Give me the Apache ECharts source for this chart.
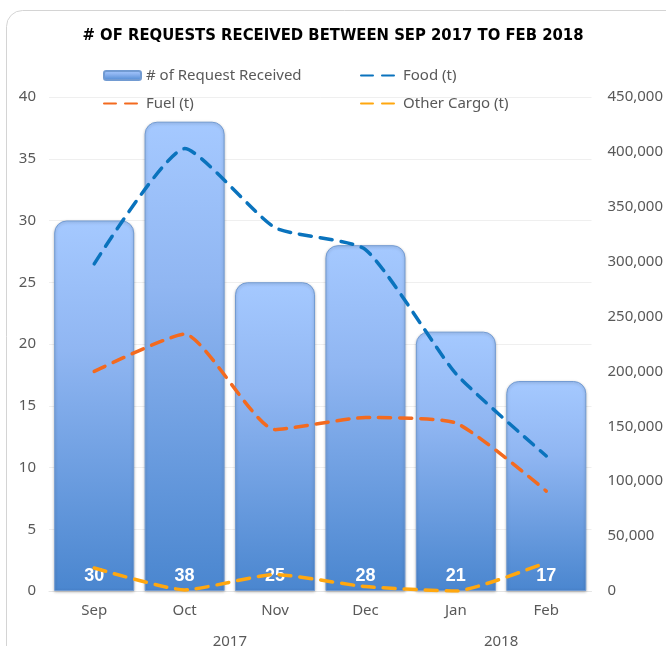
<!DOCTYPE html>
<head>
    <meta charset="utf-8">
    <title># of Requests Received</title>
    <script src="https://cdn.jsdelivr.net/npm/echarts@6/dist/echarts.min.js"></script>
    <style>
        html, body { margin: 0; padding: 0; background: #fff; }
    </style>
</head>
<body>
<div id="main" style="width:666px;height:646px"></div>
<script type="text/javascript">
    // data
    var months = ['Sep', 'Oct', 'Nov', 'Dec', 'Jan', 'Feb'];
    var requests = [30, 38, 25, 28, 21, 17];
    var food = [298000, 403000, 331000, 311000, 198000, 123000];
    var fuel = [200000, 234000, 147000, 158000, 153000, 91000];
    var otherCargo = [21000, 1000, 15000, 4000, 0, 26000];
    var yearGroups = [
        { label: '2017', from: 0, to: 3 },
        { label: '2018', from: 4, to: 5 }
    ];

    var FONT = '"Noto Sans", "DejaVu Sans", sans-serif';
    var TEXT = '#595959';

    var myChart = echarts.init(document.getElementById('main'));

    function lineSeries(name, data, color) {
        return {
            name: name,
            type: 'line',
            yAxisIndex: 1,
            data: data,
            smooth: 0.18,
            showSymbol: false,
            symbol: 'none',
            z: 3,
            itemStyle: { color: color },
            lineStyle: { color: color, width: 3.5, type: [12, 9], cap: 'round' }
        };
    }

    // one legend per entry so the 2x2 layout matches; line entries hide the symbol
    function legendAt(name, left, top, isLine) {
        var item = { name: name };
        if (isLine) item.itemStyle = { opacity: 0 };
        return {
            data: [item],
            left: left,
            top: top,
            itemWidth: 37,
            itemHeight: 9,
            itemGap: 8,
            textStyle: { color: TEXT, fontSize: 15, fontFamily: FONT },
            selectedMode: false
        };
    }

    var option = {
        animation: false,
        title: {
            text: '# OF REQUESTS RECEIVED BETWEEN SEP 2017 TO FEB 2018',
            left: 'center',
            top: 22,
            textStyle: {
                fontSize: 16.5,
                fontWeight: 'bold',
                color: '#000',
                fontFamily: '"Liberation Sans Narrow", "DejaVu Sans Condensed", sans-serif'
            }
        },
        legend: [
            legendAt('# of Request Received', 98, 63, false),
            legendAt('Food (t)', 355, 63, true),
            legendAt('Fuel (t)', 98, 91, true),
            legendAt('Other Cargo (t)', 355, 91, true)
        ],
        grid: { left: 49, right: 74, top: 97, bottom: 55 },
        xAxis: [{
            type: 'category',
            data: months,
            axisLine: { lineStyle: { color: '#e6e6e6' } },
            axisTick: { show: false },
            axisLabel: { color: TEXT, fontSize: 15, fontFamily: FONT, margin: 12 }
        }],
        yAxis: [{
            type: 'value',
            min: 0,
            max: 40,
            interval: 5,
            axisLine: { show: false },
            axisTick: { show: false },
            splitLine: { lineStyle: { color: '#efefef' } },
            axisLabel: { color: TEXT, fontSize: 15, fontFamily: FONT, margin: 13 }
        }, {
            type: 'value',
            min: 0,
            max: 450000,
            interval: 50000,
            axisLine: { show: false },
            axisTick: { show: false },
            splitLine: { show: false },
            axisLabel: {
                color: TEXT, fontSize: 15, fontFamily: FONT, margin: 16,
                formatter: function (v) { return v.toLocaleString('en-US'); }
            }
        }],
        series: [{
            name: '# of Request Received',
            type: 'bar',
            data: requests,
            barWidth: 80,
            z: 2,
            itemStyle: {
                color: new echarts.graphic.LinearGradient(0, 0, 0, 1, [
                    { offset: 0, color: '#a5c9ff' },
                    { offset: 0.35, color: '#90b6f2' },
                    { offset: 1, color: '#4a86cf' }
                ]),
                borderColor: '#729bd2',
                borderWidth: 1,
                borderRadius: [12, 12, 0, 0],
                shadowColor: 'rgba(0,0,0,0.25)',
                shadowBlur: 3,
                shadowOffsetY: 1
            },
            label: {
                show: true,
                position: 'insideBottom',
                distance: 6,
                color: '#fff',
                fontSize: 18,
                fontWeight: 'bold',
                fontFamily: '"Liberation Sans", Arial, sans-serif'
            }
        },
            lineSeries('Food (t)', food, '#0a73bd'),
            lineSeries('Fuel (t)', fuel, '#f36a1f'),
            lineSeries('Other Cargo (t)', otherCargo, '#ffa70f')
        ],
        graphic: [{
            type: 'rect',
            shape: { x: 6.5, y: 10.5, width: 720, height: 700, r: 16 },
            style: { fill: 'none', stroke: '#d4d4d4', lineWidth: 1 },
            silent: true,
            z: -10
        }]
    };

    myChart.setOption(option);

    // year group labels under the month labels, placed from the category scale
    var yearText = yearGroups.map(function (g) {
        var x1 = myChart.convertToPixel({ xAxisIndex: 0 }, g.from);
        var x2 = myChart.convertToPixel({ xAxisIndex: 0 }, g.to);
        return {
            type: 'text',
            x: (x1 + x2) / 2,
            y: 634,
            style: {
                text: g.label,
                fill: TEXT,
                font: '15px ' + FONT,
                textAlign: 'center',
                textVerticalAlign: 'top'
            },
            silent: true
        };
    });
    myChart.setOption({ graphic: option.graphic.concat(yearText) });
</script>
</body>
